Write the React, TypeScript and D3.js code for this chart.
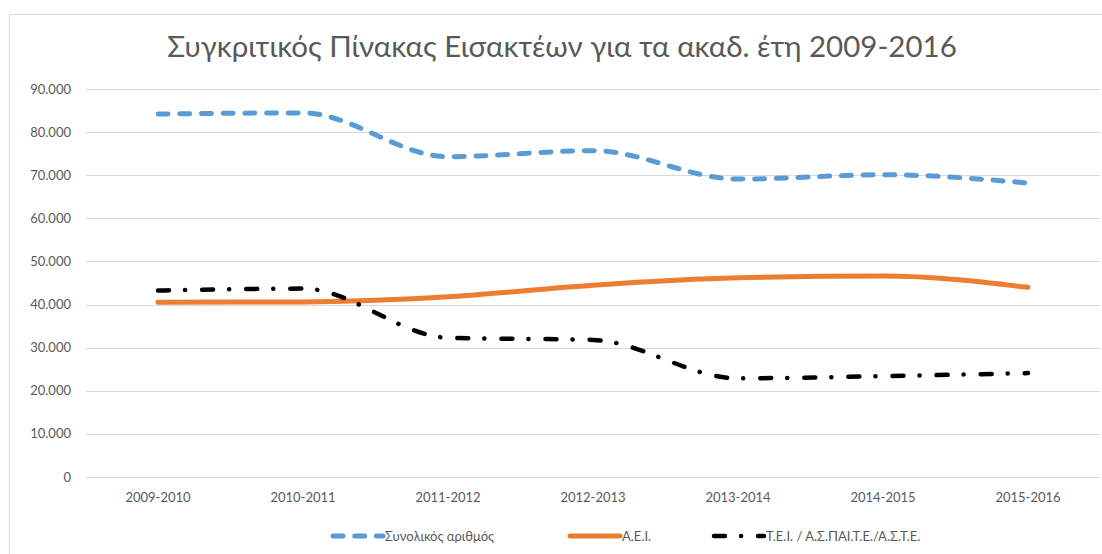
import { useRef, useEffect } from "react";
import * as d3 from "d3";

const years = ["2009-2010", "2010-2011", "2011-2012", "2012-2013", "2013-2014", "2014-2015", "2015-2016"];
const total = [84200, 84450, 74300, 75700, 69100, 70100, 68200];
const aei = [40550, 40600, 41800, 44500, 46200, 46600, 44000];
const tei = [43250, 43700, 32300, 31800, 22900, 23400, 24100];
const yTicks = [0, 10000, 20000, 30000, 40000, 50000, 60000, 70000, 80000, 90000];

const series = [
	{ name: "Συνολικός αριθμός", values: total, color: "#5b9bd5", width: 5, dash: "10 11.7" },
	{ name: "Α.Ε.Ι.", values: aei, color: "#ed7d31", width: 5, dash: null },
	{ name: "Τ.Ε.Ι. / Α.Σ.ΠΑΙ.Τ.Ε./Α.Σ.Τ.Ε.", values: tei, color: "#000000", width: 4.5, dash: "11 16 0.1 17" },
];

const fmt = (v: number) => (v === 0 ? "0" : d3.format(",")(v).replace(/,/g, "."));

const App = () => {
	const svgRef = useRef<SVGSVGElement>(null);

	useEffect(() => {
		const w = 1102;
		const h = 554;
		const font = "Lato, 'Open Sans', sans-serif";
		const svg = d3.select(svgRef.current)
			.attr("width", w)
			.attr("height", h)
			.style("display", "block")
			.style("position", "absolute")
			.style("left", "0px")
			.style("top", "0px");
		svg.selectAll("*").remove();

		// chart border
		svg.append("rect")
			.attr("x", 9.5).attr("y", 14.5)
			.attr("width", w + 20).attr("height", h + 20)
			.attr("fill", "#fff")
			.attr("stroke", "#d9d9d9");

		svg.append("text")
			.attr("x", 562).attr("y", 57)
			.attr("text-anchor", "middle")
			.attr("font-family", font)
			.attr("font-size", 29.5)
			.attr("fill", "#595959")
			.text("Συγκριτικός Πίνακας Εισακτέων για τα ακαδ. έτη 2009-2016");

		const x = d3.scaleBand().domain(years).range([85.5, 1100.5]);
		const y = d3.scaleLinear().domain([0, 90000]).range([477, 89]);

		// grid
		svg.append("g")
			.selectAll("line")
			.data(yTicks)
			.join("line")
			.attr("x1", 86).attr("x2", 1100)
			.attr("y1", d => Math.round(y(d)) + 0.5)
			.attr("y2", d => Math.round(y(d)) + 0.5)
			.attr("stroke", "#d9d9d9");

		svg.append("g")
			.selectAll("text")
			.data(yTicks)
			.join("text")
			.attr("x", 71)
			.attr("y", d => y(d))
			.attr("dy", "0.35em")
			.attr("text-anchor", "end")
			.attr("font-family", font)
			.attr("font-size", 13)
			.attr("fill", "#595959")
			.text(d => fmt(d));

		svg.append("g")
			.selectAll("text")
			.data(years)
			.join("text")
			.attr("x", d => x(d)! + x.bandwidth() / 2)
			.attr("y", 497)
			.attr("dy", "0.35em")
			.attr("text-anchor", "middle")
			.attr("font-family", font)
			.attr("font-size", 13)
			.attr("fill", "#595959")
			.text(d => d);

		const line = d3.line<number>()
			.x((_, i) => x(years[i])! + x.bandwidth() / 2)
			.y(d => y(d))
			.curve(d3.curveMonotoneX);

		series.forEach(s => {
			svg.append("path")
				.datum(s.values)
				.attr("fill", "none")
				.attr("stroke", s.color)
				.attr("stroke-width", s.width)
				.attr("stroke-linecap", "round")
				.attr("stroke-dasharray", s.dash)
				.attr("d", line);
		});

		// legend
		const legendX = [333, 570, 714];
		const lg = svg.append("g");
		series.forEach((s, i) => {
			lg.append("line")
				.attr("x1", legendX[i]).attr("x2", legendX[i] + 50)
				.attr("y1", 536).attr("y2", 536)
				.attr("stroke", s.color)
				.attr("stroke-width", s.width)
				.attr("stroke-linecap", "round")
				.attr("stroke-dasharray", s.dash);
			lg.append("text")
				.attr("x", legendX[i] + 52)
				.attr("y", 536)
				.attr("dy", "0.35em")
				.attr("font-family", font)
				.attr("font-size", 13)
				.attr("fill", "#595959")
				.text(s.name);
		});
	}, []);

	return <svg ref={svgRef}></svg>;
};

export default App;
